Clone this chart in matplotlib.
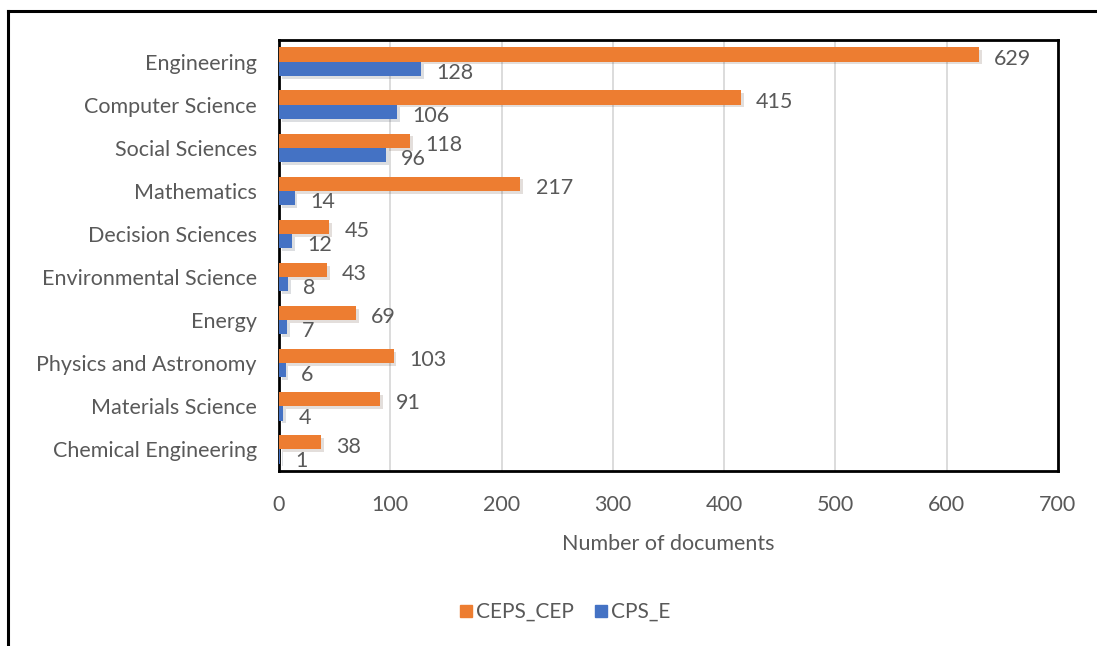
import numpy as np
import matplotlib.pyplot as plt
from matplotlib import patheffects
from matplotlib.lines import Line2D

categories = ["Engineering", "Computer Science", "Social Sciences", "Mathematics",
              "Decision Sciences", "Environmental Science", "Energy",
              "Physics and Astronomy", "Materials Science", "Chemical Engineering"]
ceps_cep = [629, 415, 118, 217, 45, 43, 69, 103, 91, 38]
cps_e = [128, 106, 96, 14, 12, 8, 7, 6, 4, 1]
series_names = ["CEPS_CEP", "CPS_E"]

orange = "#ED7D31"
blue = "#4472C4"
txt = "#595959"

plt.rcParams['font.family'] = ['Lato', 'DejaVu Sans']

fig = plt.figure(figsize=(10.97, 6.46), dpi=100)
ax = fig.add_axes([279 / 1097, 1 - 471 / 646, 779 / 1097, 431 / 646])

y = np.arange(len(categories))
h = 0.33
shadow = [patheffects.SimplePatchShadow(offset=(2, -2), alpha=0.15), patheffects.Normal()]

b1 = ax.barh(y - h / 2, ceps_cep, height=h, color=orange, label=series_names[0], zorder=3)
b2 = ax.barh(y + h / 2, cps_e, height=h, color=blue, label=series_names[1], zorder=3)
for b in list(b1) + list(b2):
    b.set_path_effects(shadow)

for bars, vals in ((b1, ceps_cep), (b2, cps_e)):
    for bar, v in zip(bars, vals):
        ax.annotate(str(v), (v, bar.get_y() + bar.get_height() / 2),
                    xytext=(11, -3), textcoords="offset points",
                    ha="left", va="center", fontsize=15.5, color=txt, zorder=4)

ax.set_xlim(0, 700)
ax.set_ylim(len(categories) - 0.5, -0.5)
ax.set_xticks(range(0, 701, 100))
ax.set_yticks(y)
ax.set_yticklabels(categories)
ax.tick_params(axis="both", length=0, labelsize=15.5, labelcolor=txt)
ax.tick_params(axis="y", pad=16)
ax.tick_params(axis="x", pad=17)
ax.set_xlabel("Number of documents", fontsize=15.5, color=txt, labelpad=14)
ax.grid(axis="x", color="#D9D9D9", linewidth=1.3, zorder=0)
ax.set_axisbelow(True)
for s in ax.spines.values():
    s.set_color("black")
    s.set_linewidth(2)

handles = [Line2D([], [], marker="s", linestyle="", color=orange, markersize=9),
           Line2D([], [], marker="s", linestyle="", color=blue, markersize=9)]
fig.legend(handles, series_names, loc="center", bbox_to_anchor=(563 / 1097, 1 - 612 / 646),
           ncol=2, frameon=False, fontsize=15, labelcolor=txt,
           handletextpad=0.0, columnspacing=0.8, handlelength=1.0)

# outer frame
fig.add_artist(Line2D([8 / 1097, 8 / 1097], [0, 1 - 11 / 646], color="black", linewidth=2.2))
fig.add_artist(Line2D([8 / 1097, 1], [1 - 11 / 646, 1 - 11 / 646], color="black", linewidth=2.2))

fig.savefig("out.png", dpi=100)
